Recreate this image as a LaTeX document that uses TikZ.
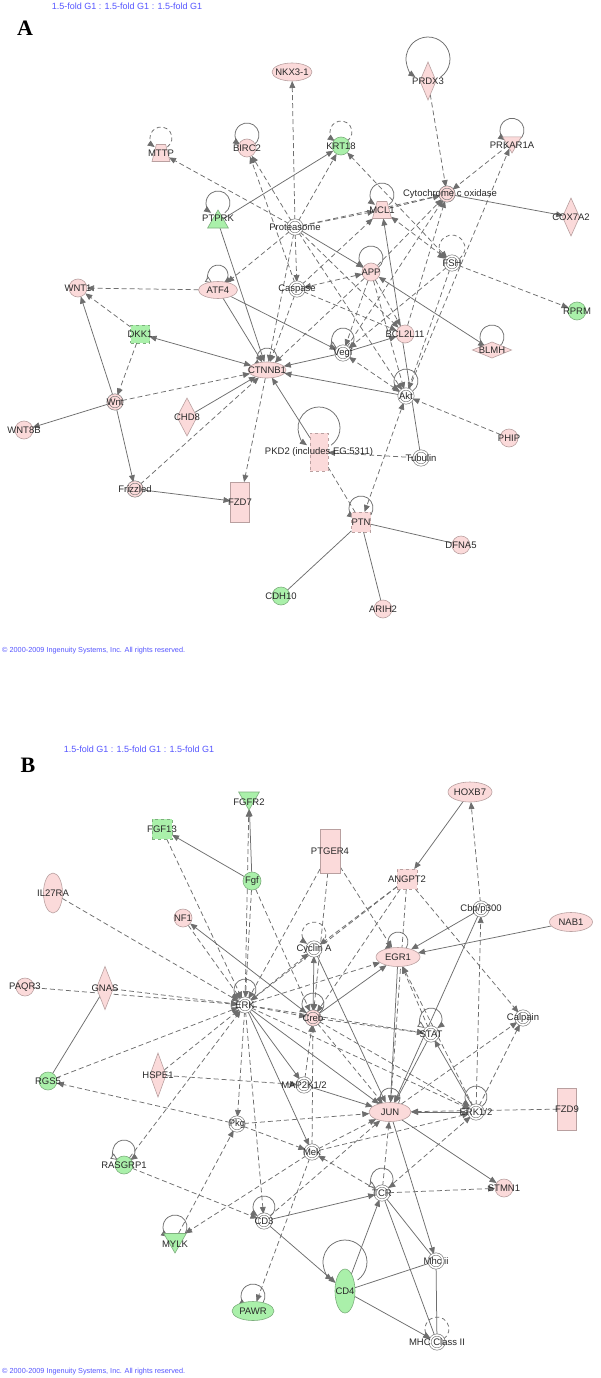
\documentclass[tikz,border=0pt]{standalone}
\usepackage{fontspec}
\setmainfont{Liberation Sans}
\newfontfamily\serifA{Liberation Serif}
\usetikzlibrary{shapes.geometric,arrows.meta,backgrounds}
\definecolor{pinkf}{RGB}{251,218,218}
\definecolor{pinkd}{RGB}{185,160,160}
\definecolor{greenf}{RGB}{170,240,170}
\definecolor{greend}{RGB}{125,175,125}
\definecolor{nodeg}{RGB}{120,120,120}
\definecolor{edgec}{RGB}{110,110,110}
\definecolor{txtc}{RGB}{40,40,40}
\definecolor{hdr}{RGB}{85,85,255}
\newcommand\lblfont{\fontsize{9.5}{10}\selectfont}
\newcommand\hdrfont{\fontsize{9}{10}\selectfont}
\newcommand\cpfont{\fontsize{7.3}{8}\selectfont}
\newcommand\sloop[4][]{\draw[#1] (#2) ++(0,-#3) ++(-55:#4pt) arc[start angle=-55,end angle=235,radius=#4pt];}
\newcommand\oloop[3]{\draw[lpo] (#1) ++(0,-#2) ++(235:#3pt) arc[start angle=235,end angle=-55,radius=#3pt];}
\tikzset{
  >={Triangle[length=7pt,width=5.8pt]},
  base/.style={inner sep=0pt, outer sep=0pt, line width=0.6pt},
  pk/.style={base, fill=pinkf, draw=pinkd},
  gr/.style={base, fill=greenf, draw=greend},
  pc/.style={pk, circle, minimum size=18pt},
  gc/.style={gr, circle, minimum size=18pt},
  trap/.style={trapezium, trapezium stretches=true, trapezium angle=65, inner sep=2pt},
  wd/.style={base, circle, minimum size=14pt, fill=white, draw=nodeg, double=white, double distance=1.6pt},
  pd/.style={base, circle, minimum size=14pt, fill=pinkf, draw=nodeg, double=pinkf, double distance=1.6pt},
  lb/.style={font=\lblfont, text=txtc, inner sep=0pt},
  ed/.style={draw=edgec, line width=0.75pt},
  sa/.style={ed, ->},
  da/.style={ed, ->, dash pattern=on 5pt off 3pt},
  sb/.style={ed, <->},
  db/.style={ed, <->, dash pattern=on 5pt off 3pt},
  sl/.style={ed},
  dl/.style={ed, dash pattern=on 5pt off 3pt},
  lps/.style={ed, ->},
  lpd/.style={ed, ->, dash pattern=on 4pt off 3pt},
  lpo/.style={ed, {Triangle[length=7pt,width=6pt,fill=white]}->},
  hd/.style={font=\hdrfont, text=hdr, inner sep=0pt},
  cp/.style={font=\cpfont, text=hdr, inner sep=0pt, anchor=west},
  big/.style={font=\serifA\bfseries\fontsize{22}{22}\selectfont, inner sep=0pt}
}
\begin{document}
\begin{tikzpicture}[x=1pt,y=-1pt]
\useasboundingbox (0,0) rectangle (600,1378);
% ---------------- Panel A ----------------
\node[hd] (hA) at (127,6) {1.5-fold G1 : 1.5-fold G1 : 1.5-fold G1};
\node[big] (lA) at (25,28) {A};
\node[cp] (cA) at (2,651) {© 2000-2009 Ingenuity Systems, Inc. All rights reserved.};

\node[pk, ellipse, minimum width=40pt, minimum height=18pt, label={[lb]center:NKX3-1}] (nkx) at (292,72) {};
\node[pk, diamond, minimum width=16pt, minimum height=38pt, label={[lb]center:PRDX3}] (prdx3) at (428,81) {};
\node[pk, trap, minimum width=18pt, minimum height=17pt, label={[lb]center:MTTP}] (mttp) at (161,153) {};
\node[pc, label={[lb]center:BIRC2}] (birc2) at (247,148) {};
\node[gc, label={[lb]center:KRT18}] (krt18) at (341,146) {};
\node[pk, regular polygon, regular polygon sides=3, shape border rotate=180, minimum size=21.4pt, label={[lb,yshift=-2.7pt]center:PRKAR1A}] (prkar) at (512,142.3) {};
\node[gr, regular polygon, regular polygon sides=3, minimum size=24pt, label={[lb,yshift=4pt]center:PTPRK}] (ptprk) at (218,222) {};
\node[wd, label={[lb]center:Proteasome}] (prot) at (295,227) {};
\node[pk, trap, minimum width=19pt, minimum height=17pt, label={[lb]center:MCL1}] (mcl1) at (382,210) {};
\node[pd, label={[lb,xshift=3pt]center:Cytochrome c oxidase}] (cyto) at (447,194) {};
\node[pk, diamond, minimum width=17pt, minimum height=38pt, label={[lb]center:COX7A2}] (cox) at (571,217) {};
\node[wd, label={[lb]center:FSH}] (fsh) at (452,263) {};
\node[gc, label={[lb]center:RPRM}] (rprm) at (577,311) {};
\node[pk, ellipse, minimum width=39pt, minimum height=17pt, label={[lb]center:ATF4}] (atf4) at (218,290) {};
\node[pc, label={[lb]center:WNT1}] (wnt1) at (78,288) {};
\node[wd, label={[lb]center:Caspase}] (casp) at (297,289) {};
\node[pc, label={[lb]center:APP}] (app) at (371,272) {};
\node[gr, rectangle, dashed, minimum width=19pt, minimum height=18pt, label={[lb]center:DKK1}] (dkk1) at (140,334) {};
\node[pc, label={[lb]center:BCL2L11}] (bcl) at (405,334) {};
\node[wd, label={[lb]center:Vegf}] (vegf) at (343,353) {};
\node[pk, diamond, minimum width=39pt, minimum height=16pt, label={[lb]center:BLMH}] (blmh) at (492,350) {};
\node[pk, ellipse, minimum width=38pt, minimum height=16pt, label={[lb]center:CTNNB1}] (ctnnb1) at (267,370) {};
\node[pd, label={[lb]center:Wnt}] (wnt) at (115,402) {};
\node[wd, label={[lb]center:Akt}] (akt) at (406,396) {};
\node[pk, diamond, minimum width=20pt, minimum height=38pt, label={[lb]center:CHD8}] (chd8) at (187,417) {};
\node[pc, label={[lb]center:WNT8B}] (wnt8b) at (24,430) {};
\node[pk, rectangle, dashed, minimum width=18pt, minimum height=38pt, label={[lb]center:{PKD2 (includes EG:5311)}}] (pkd2) at (319,452) {};
\node[pc, label={[lb]center:PHIP}] (phip) at (509,438) {};
\node[wd, label={[lb]center:Tubulin}] (tub) at (421,458) {};
\node[pd, label={[lb]center:Frizzled}] (friz) at (135,489) {};
\node[pk, rectangle, minimum width=19pt, minimum height=40pt, label={[lb]center:FZD7}] (fzd7) at (240,502) {};
\node[pk, rectangle, dashed, minimum width=19pt, minimum height=20pt, label={[lb]center:PTN}] (ptn) at (361,522) {};
\node[pc, label={[lb]center:DFNA5}] (dfna5) at (461,545) {};
\node[gc, label={[lb]center:CDH10}] (cdh10) at (281,596) {};
\node[pc, label={[lb]center:ARIH2}] (arih2) at (383,609) {};

% ---------------- Panel B ----------------
\node[hd] (hB) at (139,749) {1.5-fold G1 : 1.5-fold G1 : 1.5-fold G1};
\node[big] (lB) at (28,765) {B};
\node[cp] (cB) at (2,1372) {© 2000-2009 Ingenuity Systems, Inc. All rights reserved.};

\node[gr, regular polygon, regular polygon sides=3, shape border rotate=180, minimum size=24pt, label={[lb,yshift=-4pt]center:FGFR2}] (fgfr2) at (249,798) {};
\node[gr, rectangle, dashed, minimum width=20pt, minimum height=20pt, label={[lb]center:FGF13}] (fgf13) at (162,829) {};
\node[pk, ellipse, minimum width=44pt, minimum height=20pt, label={[lb]center:HOXB7}] (hoxb7) at (470,792) {};
\node[pk, rectangle, minimum width=20pt, minimum height=44pt, label={[lb]center:PTGER4}] (ptger4) at (330,851) {};
\node[gc, label={[lb]center:Fgf}] (fgf) at (252,881) {};
\node[pk, rectangle, dashed, minimum width=20pt, minimum height=20pt, label={[lb]center:ANGPT2}] (angpt2) at (407,879) {};
\node[pk, ellipse, minimum width=19pt, minimum height=40pt, label={[lb]center:IL27RA}] (il27ra) at (53,893) {};
\node[wd, label={[lb]center:Cbp/p300}] (cbp) at (481,909) {};
\node[pk, ellipse, minimum width=43pt, minimum height=19pt, label={[lb]center:NAB1}] (nab1) at (571,922) {};
\node[pc, label={[lb]center:NF1}] (nf1) at (183,918) {};
\node[wd, label={[lb]center:Cyclin A}] (cyca) at (314,949) {};
\node[pk, ellipse, minimum width=44pt, minimum height=19pt, label={[lb]center:EGR1}] (egr1) at (398,957) {};
\node[pc, label={[lb]center:PAQR3}] (paqr3) at (25,987) {};
\node[pk, diamond, minimum width=17pt, minimum height=43pt, label={[lb]center:GNAS}] (gnas) at (105,988) {};
\node[wd, label={[lb]center:ERK}] (erk) at (245,1005) {};
\node[pd, label={[lb]center:Creb}] (creb) at (313,1018) {};
\node[wd, label={[lb]center:STAT}] (stat) at (431,1034) {};
\node[wd, label={[lb]center:Calpain}] (calpain) at (523,1018) {};
\node[pk, diamond, minimum width=16pt, minimum height=44pt, label={[lb]center:HSPE1}] (hspe1) at (158,1075) {};
\node[gc, label={[lb]center:RGS5}] (rgs5) at (48,1081) {};
\node[wd, label={[lb]center:MAP2K1/2}] (map2k) at (304,1085) {};
\node[pk, ellipse, minimum width=42pt, minimum height=19pt, label={[lb]center:JUN}] (jun) at (390,1112) {};
\node[wd, label={[lb]center:ERK1/2}] (erk12) at (476,1112) {};
\node[pk, rectangle, minimum width=19pt, minimum height=42pt, label={[lb]center:FZD9}] (fzd9) at (567,1109) {};
\node[wd, label={[lb]center:Pkg}] (pkg) at (237,1124) {};
\node[gc, label={[lb]center:RASGRP1}] (rasgrp1) at (124,1165) {};
\node[wd, label={[lb]center:Mek}] (mek) at (312,1152) {};
\node[pc, label={[lb]center:STMN1}] (stmn1) at (504,1188) {};
\node[wd, label={[lb]center:TCR}] (tcr) at (382,1193) {};
\node[wd, label={[lb]center:CD3}] (cd3) at (264,1221) {};
\node[gr, regular polygon, regular polygon sides=3, shape border rotate=180, minimum size=26pt, label={[lb,yshift=-4pt]center:MYLK}] (mylk) at (175,1240) {};
\node[wd, label={[lb]center:Mhc ii}] (mhcii) at (436,1261) {};
\node[gr, ellipse, minimum width=20pt, minimum height=44pt, label={[lb]center:CD4}] (cd4) at (345,1291) {};
\node[gr, ellipse, minimum width=42pt, minimum height=19pt, label={[lb]center:PAWR}] (pawr) at (253,1311) {};
\node[wd, label={[lb]center:MHC Class II}] (mhc2) at (437,1342) {};

\begin{pgfonlayer}{background}
\fill[white] (0,0) rectangle (600,1378);
% ---- A loops
\sloop[lps]{prdx3}{22}{22}
\sloop[lpd]{mttp}{15}{11}
\sloop[lps]{birc2}{13}{12}
\sloop[lpd]{krt18}{14}{11}
\sloop[lps]{prkar}{12}{12}
\sloop[lps]{ptprk}{19}{12}
\sloop[lps]{mcl1}{15}{12}
\sloop[lpd]{fsh}{15}{13}
\oloop{atf4}{15}{10}
\sloop[lps]{app}{14}{12}
\oloop{vegf}{14}{11}
\sloop[lps]{blmh}{13}{12}
\sloop[lps]{ctnnb1}{12}{10}
\sloop[lps]{akt}{15}{12}
\sloop[lps]{pkd2}{24}{21}
\sloop[lps]{ptn}{14}{12}
% ---- A solid edges
\draw[sa] (ptprk) -- (krt18);
\draw[sa] (ptprk) -- (ctnnb1);
\draw[sa] (atf4) -- (ctnnb1);
\draw[sa] (atf4) -- (vegf);
\draw[sa] (prot) -- (app);
\draw[sb] (dkk1) -- (ctnnb1);
\draw[sa] (wnt) -- (wnt8b);
\draw[sa] (wnt) -- (wnt1);
\draw[sa] (wnt) -- (friz);
\draw[sa] (chd8) -- (ctnnb1);
\draw[sa] (friz) -- (fzd7);
\draw[sa] (pkd2) -- (ctnnb1);
\draw[sa] (akt) -- (ctnnb1);
\draw[sa] (vegf) -- (ctnnb1);
\draw[sa] (vegf) -- (bcl);
\draw[sa] (tub) -- (mcl1);
\draw[sa] (blmh) -- (app);
\draw[sa] (cyto) -- (cox);
\draw[sl] (ptn) -- (dfna5);
\draw[sl] (ptn) -- (cdh10);
\draw[sl] (ptn) -- (arih2);
% ---- A dashed edges
\draw[da] (prot) -- (nkx);
\draw[da] (prot) -- (mttp);
\draw[da] (prot) -- (birc2);
\draw[da] (casp) -- (birc2);
\draw[da] (prot) -- (krt18);
\draw[da] (prot) -- (mcl1);
\draw[da] (prot) -- (cyto);
\draw[da] (prot) -- (atf4);
\draw[da] (prot) -- (casp);
\draw[da] (prot) -- (ctnnb1);
\draw[da] (prot) -- (bcl);
\draw[da] (prot) -- (akt);
\draw[db] (fsh) -- (krt18);
\draw[db] (fsh) -- (mcl1);
\draw[da] (prdx3) -- (cyto);
\draw[da] (prkar) -- (cyto);
\draw[da] (akt) -- (prkar);
\draw[da] (mcl1) -- (cyto);
\draw[da] (app) -- (cyto);
\draw[da] (vegf) -- (cyto);
\draw[da] (bcl) -- (cyto);
\draw[db] (app) -- (casp);
\draw[da] (app) -- (vegf);
\draw[da] (app) -- (bcl);
\draw[da] (app) -- (akt);
\draw[da] (app) -- (ctnnb1);
\draw[da] (casp) -- (bcl);
\draw[da] (casp) -- (ctnnb1);
\draw[da] (casp) -- (mcl1);
\draw[da] (fsh) -- (vegf);
\draw[da] (fsh) -- (akt);
\draw[da] (fsh) -- (rprm);
\draw[db] (akt) -- (vegf);
\draw[da] (phip) -- (akt);
\draw[da] (tub) -- (pkd2);
\draw[db] (akt) -- (ptn);
\draw[dl] (pkd2) -- (ptn);
\draw[da] (wnt) -- (ctnnb1);
\draw[da] (dkk1) -- (wnt1);
\draw[da] (dkk1) -- (wnt);
\draw[da] (atf4) -- (wnt1);
\draw[da] (friz) -- (ctnnb1);
\draw[da] (ctnnb1) -- (fzd7);

% ---- B loops
\sloop[lpd]{cyca}{15}{12}
\sloop[lps]{egr1}{15}{10}
\sloop[lps]{erk}{15}{11}
\sloop[lps]{creb}{14}{11}
\oloop{stat}{15}{11}
\sloop[lps]{jun}{14}{10}
\sloop[lps]{erk12}{15}{11}
\oloop{rasgrp1}{14}{11}
\oloop{tcr}{14}{11}
\sloop[lps]{cd3}{14}{11}
\sloop[lps]{mylk}{13}{12}
\sloop[lps]{cd4}{29}{22}
\sloop[lps]{pawr}{15}{12}
\sloop[lpd]{mhc2}{13}{12}
% ---- B solid edges
\draw[sa] (fgf) -- (fgfr2);
\draw[sa] (fgf) -- (fgf13);
\draw[sa] (hoxb7) -- (angpt2);
\draw[sa] (nab1) -- (egr1);
\draw[sa] (cbp) -- (egr1);
\draw[sa] (cbp) -- (jun);
\draw[sa] (creb) -- (nf1);
\draw[sa] (creb) -- (egr1);
\draw[sb] (cyca) -- (creb);
\draw[sa] (cyca) -- (jun);
\draw[sa] (egr1) -- (jun);
\draw[sa] (erk) -- (map2k);
\draw[sa] (erk) -- (jun);
\draw[sa] (erk) -- (mek);
\draw[sa] (map2k) -- (jun);
\draw[sa] (stat) -- (jun);
\draw[sa] (erk12) -- (jun);
\draw[sa] (erk12) -- (stat);
\draw[sa] (jun) -- (stmn1);
\draw[sa] (jun) -- (mhcii);
\draw[sl] (gnas) -- (rgs5);
\draw[sa] (cd3) -- (tcr);
\draw[sa] (cd3) -- (cd4);
\draw[sa] (cd4) -- (tcr);
\draw[sl] (cd4) -- (mhcii);
\draw[sa] (cd4) -- (mhc2);
\draw[sl] (tcr) -- (mhcii);
\draw[sl] (tcr) -- (mhc2);
\draw[sl] (mhcii) -- (mhc2);
% ---- B dashed edges
\draw[da] (cbp) -- (hoxb7);
\draw[da] (erk12) -- (cbp);
\draw[da] (erk) -- (fgfr2);
\draw[da] (fgf13) -- (erk);
\draw[da] (fgf) -- (erk);
\draw[da] (fgf) -- (creb);
\draw[da] (ptger4) -- (erk);
\draw[da] (ptger4) -- (creb);
\draw[da] (ptger4) -- (egr1);
\draw[da] (angpt2) -- (erk);
\draw[da] (angpt2) -- (cyca);
\draw[da] (angpt2) -- (jun);
\draw[da] (angpt2) -- (calpain);
\draw[da] (angpt2) -- (creb);
\draw[da] (il27ra) -- (erk);
\draw[da] (nf1) -- (erk);
\draw[da] (paqr3) -- (erk);
\draw[da] (gnas) -- (erk);
\draw[da] (rgs5) -- (erk);
\draw[da] (hspe1) -- (map2k);
\draw[da] (hspe1) -- (erk);
\draw[da] (pkg) -- (rgs5);
\draw[da] (erk) -- (cyca);
\draw[da] (erk) -- (egr1);
\draw[da] (erk) -- (stat);
\draw[da] (erk) -- (creb);
\draw[da] (erk) -- (erk12);
\draw[da] (erk) -- (pkg);
\draw[da] (erk) -- (cd3);
\draw[da] (creb) -- (stat);
\draw[da] (creb) -- (jun);
\draw[da] (creb) -- (erk12);
\draw[da] (map2k) -- (creb);
\draw[da] (stat) -- (egr1);
\draw[da] (erk12) -- (egr1);
\draw[da] (erk12) -- (calpain);
\draw[da] (jun) -- (calpain);
\draw[da] (fzd9) -- (jun);
\draw[da] (pkg) -- (jun);
\draw[da] (pkg) -- (mek);
\draw[da] (mylk) -- (pkg);
\draw[da] (rasgrp1) -- (cd3);
\draw[da] (rasgrp1) -- (erk);
\draw[da] (mek) -- (mylk);
\draw[da] (mek) -- (jun);
\draw[da] (mek) -- (pawr);
\draw[da] (mek) -- (erk12);
\draw[da] (mek) -- (creb);
\draw[da] (tcr) -- (mek);
\draw[da] (tcr) -- (jun);
\draw[da] (tcr) -- (erk12);
\draw[da] (tcr) -- (stmn1);
\draw[da] (cd3) -- (jun);
\end{pgfonlayer}
\end{tikzpicture}
\end{document}
